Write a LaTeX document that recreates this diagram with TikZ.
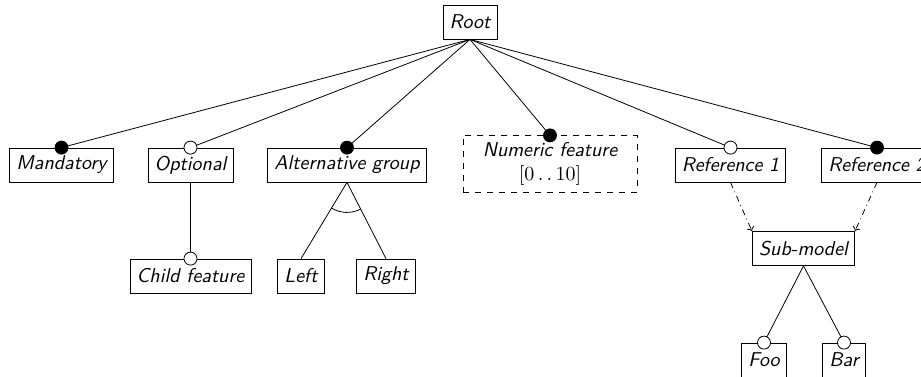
\documentclass[tikz,border=0pt]{standalone}
\usetikzlibrary{calc,arrows.meta}
\begin{document}
\begin{tikzpicture}[x=0.5pt,y=-0.5pt,
  feat/.style={draw, font=\sffamily\itshape, minimum height=17pt, inner sep=3.33pt, fill=white},
  numfeat/.style={feat, dashed, align=center, minimum width=87pt, minimum height=28pt},
  soliddot/.style={circle, draw, fill=black, inner sep=0pt, minimum size=6.5pt},
  hollowdot/.style={circle, draw, fill=white, inner sep=0pt, minimum size=6.5pt},
  refedge/.style={dash dot, -{To[length=2pt,width=4pt]}}]
\useasboundingbox (0,0) rectangle (921,376);
\clip (0,0) rectangle (921,376);

% features
\node[feat] (root) at (470,22) {Root};
\node[feat] (mand) at (61.5,165) {Mandatory};
\node[feat] (opt) at (190.5,165) {Optional};
\node[feat] (alt) at (347,165) {Alternative group};
\node[numfeat] (num) at (550,164) {Numeric feature\\$[0\mathinner{\ldotp\ldotp}10]$};
\node[feat] (ref1) at (730.5,165) {Reference 1};
\node[feat] (ref2) at (877,165) {Reference 2};
\node[feat] (child) at (190.5,276) {Child feature};
\node[feat] (left) at (301,276) {Left};
\node[feat] (right) at (386,276) {Right};
\node[feat] (sub) at (803.5,248.5) {Sub-model};
\node[feat] (foo) at (764,360) {Foo};
\node[feat] (bar) at (844,360) {Bar};

% tree edges
\foreach \c in {mand,opt,alt,num,ref1,ref2}
  \draw (root.south) -- (\c.north);
\draw (opt.south) -- (child.north);
\draw (alt.south) -- (left.north);
\draw (alt.south) -- (right.north);
\draw (sub.south) -- (foo.north);
\draw (sub.south) -- (bar.north);

% alternative group arc
\draw let \p1=(alt.south), \p2=(left.north), \p3=(right.north),
  \n1={atan2(\y2-\y1,\x2-\x1)}, \n2={atan2(\y3-\y1,\x3-\x1)} in
  ($(alt.south)!15pt!(left.north)$) arc[start angle=\n1, end angle=\n2, radius=15pt];

% references to the sub-model
\draw[refedge] (ref1.south) -- (sub.north west);
\draw[refedge] (ref2.south) -- (sub.north east);

% mandatory / optional markers
\node[soliddot] (dmand) at (mand.north) {};
\node[hollowdot] (dopt) at (opt.north) {};
\node[soliddot] (dalt) at (alt.north) {};
\node[soliddot] (dnum) at (num.north) {};
\node[hollowdot] (dref1) at (ref1.north) {};
\node[soliddot] (dref2) at (ref2.north) {};
\node[hollowdot] (dchild) at (child.north) {};
\node[hollowdot] (dfoo) at (foo.north) {};
\node[hollowdot] (dbar) at (bar.north) {};
\end{tikzpicture}
\end{document}
